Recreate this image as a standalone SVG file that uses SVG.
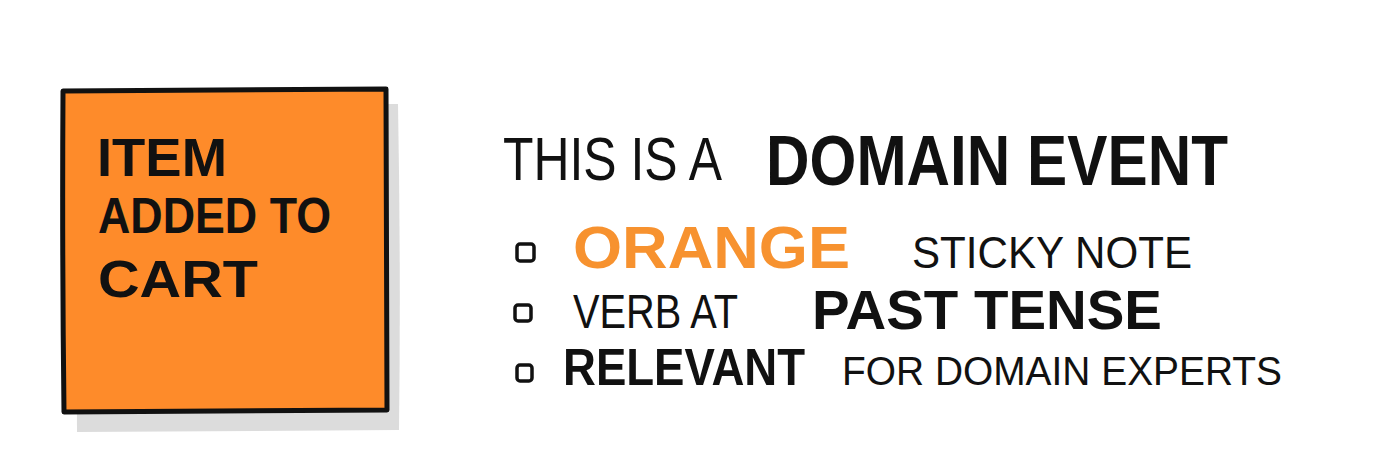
<svg xmlns="http://www.w3.org/2000/svg" width="1384" height="466" viewBox="0 0 1384 466">
<style>
.hand{font-family:"Liberation Sans",Arial,sans-serif;fill:#111;}
.b{font-weight:bold;}
.t{font-weight:normal;}
.box{fill:none;stroke:#111;stroke-width:3.5;}
</style>
<rect width="1384" height="466" fill="#ffffff"/>
<g id="sticky-note">
<path d="M76 104 L398 104 Q401 270 399 430 L77 432 Z" fill="#dcdcdc"/>
<path d="M63 91 L386 89 Q387 250 387 410 L64 412 Q62 250 63 91 Z" fill="#fe8b2a" stroke="#111" stroke-width="5" stroke-linejoin="round"/>
<text class="hand b" x="97" y="176" font-size="54" textLength="130" lengthAdjust="spacingAndGlyphs">ITEM</text>
<text class="hand b" x="98" y="233" font-size="50" textLength="233" lengthAdjust="spacingAndGlyphs">ADDED TO</text>
<text class="hand b" x="98" y="297" font-size="52" textLength="160" lengthAdjust="spacingAndGlyphs">CART</text>
</g>
<g id="description">
<text class="hand t" x="503" y="180" font-size="62" textLength="219" lengthAdjust="spacingAndGlyphs">THIS IS A</text>
<text class="hand b" x="766" y="185" font-size="70" textLength="462" lengthAdjust="spacingAndGlyphs">DOMAIN EVENT</text>
</g>
<g id="bullet-1">
<rect class="box" x="517" y="244" width="17" height="17" rx="3"/>
<text class="hand b" x="573" y="268" font-size="60" style="fill:#f7922f" textLength="277" lengthAdjust="spacingAndGlyphs">ORANGE</text>
<text class="hand t" x="912" y="268" font-size="44" textLength="280" lengthAdjust="spacingAndGlyphs">STICKY NOTE</text>
</g>
<g id="bullet-2">
<rect class="box" x="515" y="305" width="16" height="16" rx="3"/>
<text class="hand t" x="573" y="328" font-size="48" textLength="165" lengthAdjust="spacingAndGlyphs">VERB AT</text>
<text class="hand b" x="812" y="329" font-size="56" textLength="350" lengthAdjust="spacingAndGlyphs">PAST TENSE</text>
</g>
<g id="bullet-3">
<rect class="box" x="517" y="365" width="15" height="16" rx="3"/>
<text class="hand b" x="563" y="385" font-size="52" textLength="242" lengthAdjust="spacingAndGlyphs">RELEVANT</text>
<text class="hand t" x="842" y="385" font-size="40" textLength="440" lengthAdjust="spacingAndGlyphs">FOR DOMAIN EXPERTS</text>
</g>
<g id="connectors"></g>
</svg>
